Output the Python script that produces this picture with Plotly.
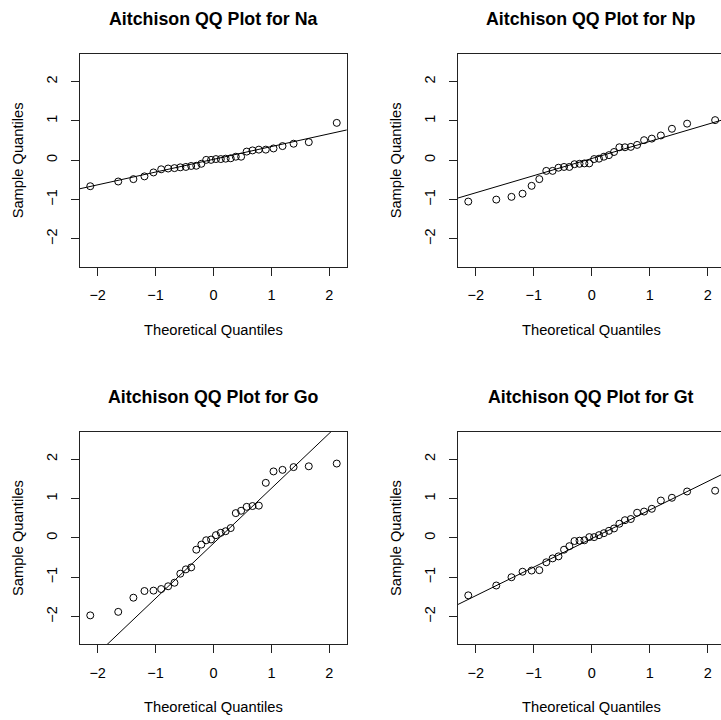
import plotly.graph_objects as go
import numpy as np

# Theoretical normal quantiles for n = 30 (ppoints)
theo_q = [-2.128, -1.645, -1.383, -1.192, -1.036, -0.903, -0.783, -0.674, -0.573, -0.477,
          -0.385, -0.297, -0.210, -0.126, -0.042, 0.042, 0.126, 0.210, 0.297, 0.385,
          0.477, 0.573, 0.674, 0.783, 0.903, 1.036, 1.192, 1.383, 1.645, 2.128]

na = [-0.66, -0.54, -0.48, -0.41, -0.31, -0.23, -0.21, -0.20, -0.18, -0.17,
      -0.145, -0.14, -0.09, 0.01, 0.01, 0.03, 0.03, 0.04, 0.05, 0.09,
      0.09, 0.22, 0.25, 0.27, 0.27, 0.30, 0.36, 0.42, 0.46, 0.95]
np_ = [-1.05, -1.00, -0.93, -0.85, -0.65, -0.48, -0.27, -0.27, -0.19, -0.17,
       -0.17, -0.10, -0.09, -0.08, -0.08, 0.03, 0.04, 0.09, 0.13, 0.21,
       0.33, 0.33, 0.34, 0.39, 0.51, 0.55, 0.63, 0.80, 0.93, 1.02]
go_ = [-1.97, -1.88, -1.52, -1.35, -1.34, -1.30, -1.23, -1.14, -0.91, -0.80,
       -0.75, -0.30, -0.17, -0.06, -0.04, 0.07, 0.13, 0.17, 0.25, 0.63,
       0.69, 0.79, 0.81, 0.82, 1.40, 1.69, 1.73, 1.80, 1.82, 1.89]
gt = [-1.46, -1.21, -1.00, -0.86, -0.83, -0.82, -0.62, -0.52, -0.47, -0.30,
      -0.21, -0.08, -0.07, -0.06, 0.02, 0.02, 0.07, 0.12, 0.18, 0.24,
      0.36, 0.45, 0.48, 0.64, 0.67, 0.74, 0.95, 1.02, 1.18, 1.20]

names = ["Na", "Np", "Go", "Gt"]
series = [na, np_, go_, gt]

tick_vals = [-2, -1, 0, 1, 2]
tick_text = ["\u22122", "\u22121", "0", "1", "2"]

W, H = 721, 720
FONT = "Liberation Sans, Arial, Helvetica, sans-serif"

# pixel boxes (left, right, top, bottom)
boxes = [(80, 346.7, 54, 266.7), (458, 721, 54, 266.7),
         (80, 346.7, 431.7, 644.3), (458, 721, 431.7, 644.3)]
xranges = [[-2.305, 2.30], [-2.305, 2.229], [-2.305, 2.30], [-2.305, 2.229]]
yrange = [-2.705, 2.70]
qx = 0.6745  # normal quartiles

fig = go.Figure()
annotations = []
for i, (nm, ys, box, xr) in enumerate(zip(names, series, boxes, xranges)):
    k = i + 1
    xa = "x" if k == 1 else f"x{k}"
    ya = "y" if k == 1 else f"y{k}"
    fig.add_trace(go.Scatter(x=theo_q, y=ys, mode="markers", xaxis=xa, yaxis=ya,
                             marker=dict(symbol="circle-open", size=7, color="black",
                                         line=dict(width=1, color="black")),
                             showlegend=False, cliponaxis=True))
    q1, q3 = np.quantile(ys, [0.25, 0.75])
    slope = (q3 - q1) / (2 * qx)
    inter = (q1 + q3) / 2
    lx = [-3, 3]
    ly = [inter + slope * v for v in lx]
    fig.add_trace(go.Scatter(x=lx, y=ly, mode="lines", xaxis=xa, yaxis=ya,
                             line=dict(color="black", width=1), showlegend=False))
    l, r, t, b = box
    right_cut = r >= 720
    xdom = [l / W, r / W]
    ydom = [1 - b / H, 1 - t / H]
    axkey = "xaxis" if k == 1 else f"xaxis{k}"
    aykey = "yaxis" if k == 1 else f"yaxis{k}"
    fig.update_layout(**{
        axkey: dict(domain=xdom, range=xr, anchor=ya, showgrid=False, zeroline=False,
                    showline=True, linecolor="#222", linewidth=1, mirror=True,
                    ticks="outside", ticklen=8, tickcolor="#222", tickwidth=1,
                    tickvals=tick_vals, ticktext=tick_text, ticklabelstandoff=7,
                    tickfont=dict(family=FONT, size=14.5, color="black")),
        aykey: dict(domain=ydom, range=yrange, anchor=xa, showgrid=False, zeroline=False,
                    showline=True, linecolor="#222", linewidth=1,
                    mirror=False if right_cut else True,
                    ticks="outside", ticklen=8, tickcolor="#222", tickwidth=1,
                    tickvals=tick_vals, ticktext=tick_text, tickangle=-90,
                    ticklabelstandoff=8,
                    tickfont=dict(family=FONT, size=14.5, color="black")),
    })
    cx = l + (346.7 - 80) / 2
    annotations.append(dict(text=f"<b>Aitchison QQ Plot for {nm}</b>", x=cx / W,
                            y=1 - (t - 35) / H, xref="paper", yref="paper",
                            xanchor="center", yanchor="middle", showarrow=False,
                            font=dict(family=FONT, size=17.8, color="black")))
    annotations.append(dict(text="Theoretical Quantiles", x=cx / W,
                            y=1 - (b + 63) / H, xref="paper", yref="paper",
                            xanchor="center", yanchor="middle", showarrow=False,
                            font=dict(family=FONT, size=14.7, color="black")))
    annotations.append(dict(text="Sample Quantiles", x=(l - 62) / W,
                            y=1 - ((t + b) / 2) / H, xref="paper", yref="paper",
                            xanchor="center", yanchor="middle", showarrow=False,
                            textangle=-90,
                            font=dict(family=FONT, size=14.7, color="black")))

fig.update_layout(width=W, height=H, margin=dict(l=0, r=0, t=0, b=0),
                  paper_bgcolor="white", plot_bgcolor="white",
                  annotations=annotations, showlegend=False)
fig.write_html("out.html")
